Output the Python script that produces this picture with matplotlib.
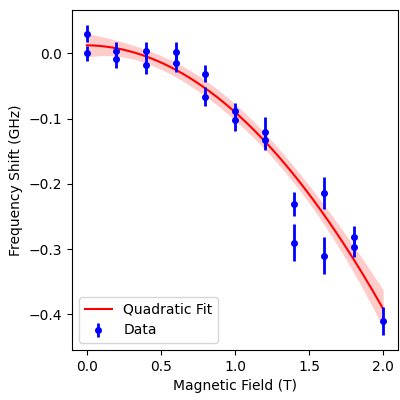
import matplotlib
matplotlib.use("Agg")
import matplotlib.pyplot as plt
import numpy as np

field = [0.0, 0.0, 0.2, 0.2, 0.4, 0.4, 0.6, 0.6, 0.8, 0.8, 1.0, 1.0,
         1.2, 1.2, 1.4, 1.4, 1.6, 1.6, 1.8, 1.8, 2.0]
shift = [0.030, 0.000, 0.004, -0.009, 0.004, -0.017, 0.002, -0.015,
         -0.031, -0.066, -0.088, -0.102, -0.121, -0.133, -0.231, -0.290,
         -0.214, -0.310, -0.282, -0.297, -0.410]
err = [0.013, 0.012, 0.014, 0.013, 0.013, 0.015, 0.015, 0.014,
       0.013, 0.015, 0.012, 0.017, 0.023, 0.015, 0.018, 0.028,
       0.025, 0.028, 0.017, 0.015, 0.021]

x = np.array(field)
y = np.array(shift)
coef, cov = np.polyfit(x, y, 2, w=1 / np.array(err), cov="unscaled")
xf = np.linspace(0, 2, 200)
A = np.vstack([xf**2, xf, np.ones_like(xf)]).T
yf = A @ coef
sig = np.sqrt(np.einsum("ij,jk,ik->i", A, cov, A))

fig, ax = plt.subplots(figsize=(4, 4), dpi=100)
ax.plot(xf, yf, color="red", label="Quadratic Fit")
ax.fill_between(xf, yf - 2.5 * sig, yf + 2.5 * sig, color="red", alpha=0.2, lw=0)
ax.errorbar(x, y, yerr=err, fmt="o", color="blue", ms=4, elinewidth=2, label="Data")
ax.set_xlabel("Magnetic Field (T)")
ax.set_ylabel("Frequency Shift (GHz)")
ax.legend(loc="lower left")
fig.subplots_adjust(left=0.18, right=0.995, top=0.975, bottom=0.125)
fig.savefig("out.png")
